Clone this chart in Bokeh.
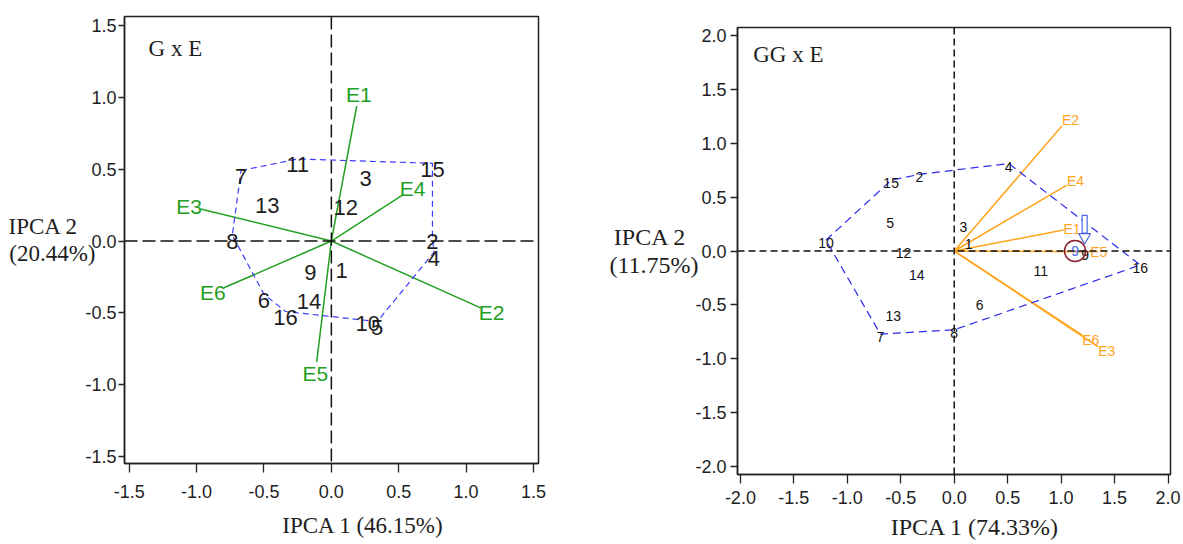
import math
from bokeh.plotting import figure
from bokeh.models import Range1d, FixedTicker, Span, Label, ColumnDataSource, Spacer
from bokeh.layouts import row, column
from bokeh.embed import file_html
from bokeh.resources import INLINE
from bokeh.core.properties import value

# ---------------- data: left biplot (G x E) ----------------
gxe_gen_id = ["1", "2", "3", "4", "5", "6", "7", "8", "9", "10", "11", "12", "13", "14", "15", "16"]
gxe_gen_x = [0.076, 0.75, 0.255, 0.76, 0.34, -0.50, -0.67, -0.735, -0.155, 0.27, -0.25, 0.106, -0.475, -0.166, 0.75, -0.34]
gxe_gen_y = [-0.16, 0.04, 0.475, -0.08, -0.56, -0.37, 0.49, 0.04, -0.175, -0.53, 0.57, 0.275, 0.29, -0.38, 0.54, -0.49]
gxe_hull = ["7", "11", "15", "2", "4", "5", "16", "6", "8"]
gxe_env_id = ["E1", "E2", "E3", "E4", "E5", "E6"]
gxe_env_x = [0.188, 1.108, -0.970, 0.527, -0.109, -0.797]
gxe_env_y = [0.938, -0.465, 0.222, 0.318, -0.841, -0.325]
gxe_ticks = [-1.5, -1.0, -0.5, 0.0, 0.5, 1.0, 1.5]
gxe_tick_labels = ["-1.5", "-1.0", "-0.5", "0.0", "0.5", "1.0", "1.5"]
gxe_title = "G x E"
gxe_xtitle = "IPCA 1 (46.15%)"
gxe_ytitle = ["IPCA 2", "(20.44%)"]

# ---------------- data: right biplot (GG x E) ----------------
gge_gen_id = ["1", "2", "3", "4", "5", "6", "7", "8", "9", "10", "11", "12", "13", "14", "15", "16"]
gge_gen_x = [0.134, -0.325, 0.087, 0.51, -0.60, 0.237, -0.69, 0.0, 1.225, -1.20, 0.81, -0.475, -0.57, -0.35, -0.59, 1.74]
gge_gen_y = [0.09, 0.71, 0.25, 0.81, 0.29, -0.47, -0.77, -0.73, -0.01, 0.10, -0.155, 0.005, -0.57, -0.195, 0.655, -0.13]
gge_hull = ["10", "15", "2", "4", "16", "8", "7"]
gge_env_id = ["E1", "E2", "E3", "E4", "E5", "E6"]
gge_env_x = [1.022, 1.007, 1.347, 1.054, 1.272, 1.197]
gge_env_y = [0.194, 1.157, -0.887, 0.610, -0.007, -0.779]
gge_ticks = [-2.0, -1.5, -1.0, -0.5, 0.0, 0.5, 1.0, 1.5, 2.0]
gge_tick_labels = ["-2.0", "-1.5", "-1.0", "-0.5", "0.0", "0.5", "1.0", "1.5", "2.0"]
gge_ideal_x = 1.13
gge_ideal_y = 0.0
gge_ideal_label = "9"
gge_arrow_x = 1.22
gge_arrow_top = 0.33
gge_arrow_base = 0.166
gge_arrow_tip = 0.073
gge_title = "GG x E"
gge_xtitle = "IPCA 1 (74.33%)"
gge_ytitle = ["IPCA 2", "(11.75%)"]

SANS = "Liberation Sans"
SERIF = "Liberation Serif"
TXT = "#1e1e1e"
NBSP = "\u00a0"


def make_fig(width, height, bl, br, bt, bb, xr, yr, ticks, labels,
             xtick_out, ytick_out, xstand, ystand):
    p = figure(width=width, height=height, x_range=Range1d(*xr), y_range=Range1d(*yr),
               output_backend="svg", toolbar_location=None, title=None,
               min_border_left=bl, min_border_right=br, min_border_top=bt, min_border_bottom=bb)
    p.grid.visible = False
    p.background_fill_color = "white"
    p.border_fill_color = "white"
    p.outline_line_color = "#222222"
    p.outline_line_width = 1.5
    for ax, out, st in ((p.xaxis[0], xtick_out, xstand), (p.yaxis[0], ytick_out, ystand)):
        ax.ticker = FixedTicker(ticks=ticks)
        ax.major_label_overrides = {t: l for t, l in zip(ticks, labels)}
        ax.major_label_text_font = SANS
        ax.major_label_text_font_size = "18px"
        ax.major_label_text_color = TXT
        ax.major_tick_in = 0
        ax.major_tick_out = out
        ax.major_tick_line_color = "#222222"
        ax.major_tick_line_width = 1.3
        ax.minor_tick_line_color = None
        ax.axis_line_color = "#222222"
        ax.axis_line_width = 1.5
        ax.major_label_standoff = st
        ax.axis_label_text_font = SERIF
        ax.axis_label_text_font_style = "normal"
        ax.axis_label_text_color = TXT
    return p


def y_title(p, lines, size, standoff, pad):
    ax = p.yaxis[0]
    ax.axis_label = lines[0] + NBSP * pad + "\n" + lines[1]
    ax.axis_label_orientation = "horizontal"
    ax.axis_label_text_font_size = size
    ax.axis_label_text_line_height = 1.05
    ax.axis_label_standoff = standoff


def x_title(p, text, size, pad, standoff):
    ax = p.xaxis[0]
    ax.axis_label = NBSP * pad + text
    ax.axis_label_text_font_size = size
    ax.axis_label_standoff = standoff


def env_offsets(xs, ys, kx, ky, dist):
    xo, yo = [], []
    for x, y in zip(xs, ys):
        dx, dy = x * kx, y * ky
        n = math.hypot(dx, dy)
        xo.append(dist * dx / n)
        yo.append(-dist * dy / n)
    return xo, yo


# ---------------- left figure ----------------
L_xr = (-1.535, 1.537)
L_yr = (-1.546, 1.56)
L_fw, L_fh = 414, 447
pL = make_fig(568, 544, 124, 30, 16, 81, L_xr, L_yr, gxe_ticks, gxe_tick_labels, 9, 6, 12, 2)
kxL = L_fw / (L_xr[1] - L_xr[0])
kyL = L_fh / (L_yr[1] - L_yr[0])

pL.add_layout(Span(location=0, dimension="width", line_color="#111111", line_width=1.5, line_dash="13 5"))
pL.add_layout(Span(location=0, dimension="height", line_color="#111111", line_width=1.5, line_dash="13 5"))

green = "#23a023"
pL.segment(x0=[0] * len(gxe_env_x), y0=[0] * len(gxe_env_y), x1=gxe_env_x, y1=gxe_env_y,
           line_color=green, line_width=1.5)
idx = {g: i for i, g in enumerate(gxe_gen_id)}
hx = [gxe_gen_x[idx[g]] for g in gxe_hull] + [gxe_gen_x[idx[gxe_hull[0]]]]
hy = [gxe_gen_y[idx[g]] for g in gxe_hull] + [gxe_gen_y[idx[gxe_hull[0]]]]
pL.line(hx, hy, line_color="#3b3bff", line_width=1.2, line_dash="6 4")

pL.text(x=gxe_gen_x, y=gxe_gen_y, text=gxe_gen_id, text_font=value(SANS), text_font_size=value("22px"),
        text_color=TXT, text_align="center", text_baseline="middle", y_offset=6)
exo, eyo = env_offsets(gxe_env_x, gxe_env_y, kxL, kyL, 12)
srcLe = ColumnDataSource(dict(x=gxe_env_x, y=gxe_env_y, t=gxe_env_id, xo=exo, yo=eyo))
pL.text(x="x", y="y", text="t", x_offset="xo", y_offset="yo", source=srcLe,
        text_font=value(SANS), text_font_size=value("21px"), text_color=green,
        text_align="center", text_baseline="middle")

pL.add_layout(Label(x=-1.356, y=1.339, text=gxe_title, text_font=SERIF, text_font_size="23px",
                    text_color=TXT, text_align="left", text_baseline="alphabetic"))
y_title(pL, gxe_ytitle, "23px", -13, 3)
x_title(pL, gxe_xtitle, "23px", 11, 12)

# ---------------- right figure (shifted down by a spacer) ----------------
R_xr = (-2.027, 2.023)
R_yr = (-2.07, 2.07)
R_fw, R_fh = 433, 447
pR = make_fig(615, 533, 169, 13, 16, 70, R_xr, R_yr, gge_ticks, gge_tick_labels, 9, 7, 7, 4)
kxR = R_fw / (R_xr[1] - R_xr[0])
kyR = R_fh / (R_yr[1] - R_yr[0])

pR.add_layout(Span(location=0, dimension="width", line_color="#111111", line_width=1.5, line_dash="7 4"))
pR.add_layout(Span(location=0, dimension="height", line_color="#111111", line_width=1.5, line_dash="7 4"))

orange = "#ffa41c"
pR.segment(x0=[0] * len(gge_env_x), y0=[0] * len(gge_env_y), x1=gge_env_x, y1=gge_env_y,
           line_color=orange, line_width=1.5)
idx = {g: i for i, g in enumerate(gge_gen_id)}
hx = [gge_gen_x[idx[g]] for g in gge_hull] + [gge_gen_x[idx[gge_hull[0]]]]
hy = [gge_gen_y[idx[g]] for g in gge_hull] + [gge_gen_y[idx[gge_hull[0]]]]
pR.line(hx, hy, line_color="#2b2bee", line_width=1.2, line_dash="8 5")

pR.text(x=gge_gen_x, y=gge_gen_y, text=gge_gen_id, text_font=value(SANS), text_font_size=value("14px"),
        text_color="#111111", text_align="center", text_baseline="middle", y_offset=3)
_, eyo = env_offsets(gge_env_x, gge_env_y, kxR, kyR, 8)
srcRe = ColumnDataSource(dict(x=gge_env_x, y=gge_env_y, t=gge_env_id, yo=eyo))
pR.text(x="x", y="y", text="t", y_offset="yo", source=srcRe,
        text_font=value(SANS), text_font_size=value("14px"), text_color=orange,
        text_align="left", text_baseline="middle")

blue = "#4a66e6"
pR.scatter(x=[gge_ideal_x], y=[gge_ideal_y], marker="circle", size=21, fill_color=None,
           line_color="#8b1a2e", line_width=1.5)
pR.text(x=[gge_ideal_x], y=[gge_ideal_y], text=[gge_ideal_label], text_font=value(SANS),
        text_font_size=value("14px"), text_color=blue, text_align="center", text_baseline="middle")
pR.rect(x=[gge_arrow_x], y=[(gge_arrow_top + gge_arrow_base) / 2], width=5, width_units="screen",
        height=gge_arrow_top - gge_arrow_base, fill_color="white", line_color=blue, line_width=1.2)
pR.scatter(x=[gge_arrow_x], y=[(gge_arrow_base + gge_arrow_tip) / 2 + 0.01], marker="inverted_triangle",
           size=12, fill_color="white", line_color=blue, line_width=1.2)

pR.add_layout(Label(x=-1.88, y=1.82, text=gge_title, text_font=SERIF, text_font_size="23px",
                    text_color=TXT, text_align="left", text_baseline="alphabetic"))
y_title(pR, gge_ytitle, "24px", -6, 2)
x_title(pR, gge_xtitle, "24px", 7, 7)

layout = row(pL, column(Spacer(width=615, height=11), pR))
open("out.html", "w").write(file_html(layout, INLINE))
